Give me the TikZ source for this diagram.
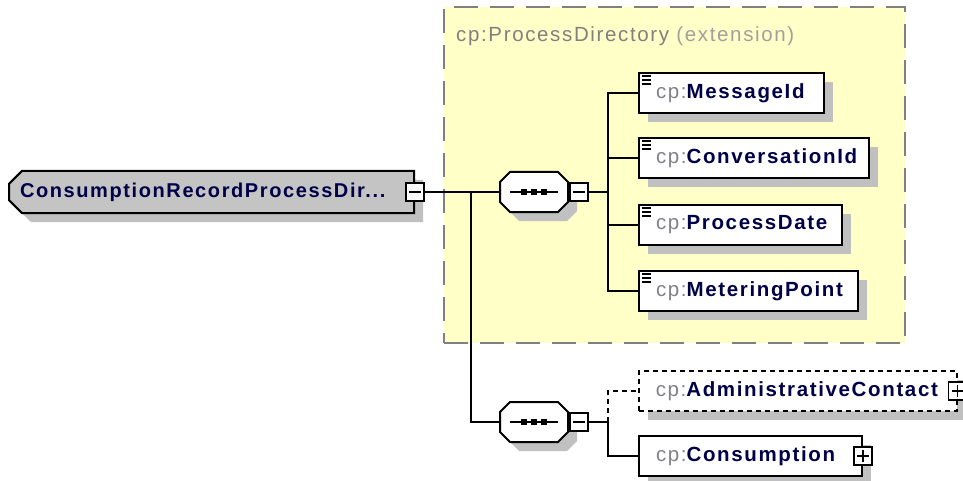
\documentclass[tikz,border=0pt]{standalone}
\usepackage{fontspec}
\setmainfont{Liberation Sans}[LetterSpace=8]
\usetikzlibrary{shapes.misc,shadows}

\definecolor{dirfill}{RGB}{255,255,200}
\definecolor{dirline}{RGB}{128,128,128}
\definecolor{shade}{RGB}{192,192,192}
\definecolor{rootfill}{RGB}{196,196,196}
\definecolor{namecol}{RGB}{0,0,72}
\definecolor{pfxcol}{RGB}{128,128,136}
\definecolor{extcol}{RGB}{160,160,160}

\newcommand{\cppfx}{{\mdseries\color{pfxcol}cp:}}

\begin{document}
\begin{tikzpicture}[
            x=1pt,y=-1pt,
            shadowed/.style={drop shadow={shadow xshift=9pt,shadow yshift=-9pt,fill=shade,opacity=1,draw=none}},
            elem/.style={draw,rectangle,line width=2pt,fill=white,anchor=west,minimum height=40,inner xsep=17,inner ysep=0,align=left,text=namecol,font=\bfseries\fontsize{20.5}{24}\selectfont,shadowed},
            optelem/.style={elem,line width=1.5pt,dash pattern=on 5pt off 4pt},
            txticon/.style={path picture={\foreach \k in {3,7,11} \draw[line width=1.3pt,black] ([xshift=3pt,yshift=-\k pt]path picture bounding box.north west) -- ++(9pt,0pt);}},
            rootelem/.style={chamfered rectangle,chamfered rectangle corners={north west,south west},chamfered rectangle xsep=11pt,draw,line width=2pt,fill=rootfill,minimum width=405,minimum height=42,inner xsep=1,inner ysep=0,text width=383,align=left,text=namecol,font=\bfseries\fontsize{20}{24}\selectfont,shadowed},
            seq/.style={chamfered rectangle,chamfered rectangle xsep=10pt,draw,line width=2pt,fill=white,minimum width=68,minimum height=40,inner sep=0,shadowed,
              path picture={\draw[line width=1.5pt,black] ([xshift=-24pt]path picture bounding box.center) -- ([xshift=24pt]path picture bounding box.center);
                \foreach \d in {-10,0,10} \fill[black] ([xshift=\d pt]path picture bounding box.center) ++(-3pt,-3pt) rectangle ++(6pt,6pt);}},
            minusbox/.style={draw,rectangle,line width=1.8pt,fill=white,minimum size=18,inner sep=0,
              path picture={\draw[line width=1.5pt,black] ([xshift=3pt]path picture bounding box.west) -- ([xshift=-3pt]path picture bounding box.east);}},
            plusbox/.style={draw,rectangle,line width=1.8pt,fill=white,minimum size=18,inner sep=0,
              path picture={\draw[line width=1.5pt,black] ([xshift=3pt]path picture bounding box.west) -- ([xshift=-3pt]path picture bounding box.east);
                \draw[line width=1.5pt,black] ([yshift=-3pt]path picture bounding box.north) -- ([yshift=3pt]path picture bounding box.south);}},
            dirbox/.style={draw=dirline,fill=dirfill,line width=2pt,dash pattern=on 24pt off 12pt,minimum width=461,minimum height=336,inner sep=0},
            wire/.style={line width=2pt},
            optwire/.style={wire,dash pattern=on 5pt off 4pt}
          ]
          \useasboundingbox (0,0) rectangle (963,481);

          %extension area
          \node[dirbox] (dir) at (674.5,175) {};
          \node[anchor=base west,inner sep=0,font=\fontsize{20.5}{24}\selectfont] (dirtitle) at (456,42)
            {\textcolor{dirline}{cp:ProcessDirectory} \textcolor{extcol}{(extension)}};

          %root
          \node[rootelem] (root) at (211.5,192) {ConsumptionRecordProcessDir...};

          %sequences
          \node[seq] (seq1) at (534,192) {\vrule width 0pt height 11pt depth 11pt};
          \node[seq] (seq2) at (534,422) {\vrule width 0pt height 11pt depth 11pt};

          %children
          \node[elem,txticon,text width=151] (msgid) at (638,93) {\cppfx MessageId};
          \node[elem,txticon,text width=196] (convid) at (638,158) {\cppfx ConversationId};
          \node[elem,txticon,text width=169] (pdate) at (638,225) {\cppfx ProcessDate};
          \node[elem,txticon,text width=185] (mpoint) at (638,291) {\cppfx MeteringPoint};
          \node[optelem,text width=284] (admin) at (638,391) {\cppfx AdministrativeContact};
          \node[elem,text width=189] (cons) at (638,456) {\cppfx Consumption};

          %expand boxes
          \node[minusbox] (rootm) at (root.east) {};
          \node[minusbox,anchor=west] (seq1m) at (seq1.east) {};
          \node[minusbox,anchor=west] (seq2m) at (seq2.east) {};
          \node[plusbox] (adminp) at (admin.east) {};
          \node[plusbox] (consp) at (cons.east) {};

          %connectors
          \coordinate (fork) at (471,192);
          \coordinate (bus1) at (608,192);
          \coordinate (bus2) at (608,422);
          \draw[wire] (rootm.east) -- (seq1.west);
          \draw[wire] (fork) |- (seq2.west);
          \draw[wire] (seq1m.east) -- (bus1);
          \foreach \n in {msgid,convid,pdate,mpoint}
            \draw[wire] (bus1) |- (\n.west);
          \draw[wire] (seq2m.east) -- (bus2);
          \draw[optwire] (bus2) |- (admin.west);
          \draw[wire] (bus2) |- (cons.west);

      \end{tikzpicture}
\end{document}
